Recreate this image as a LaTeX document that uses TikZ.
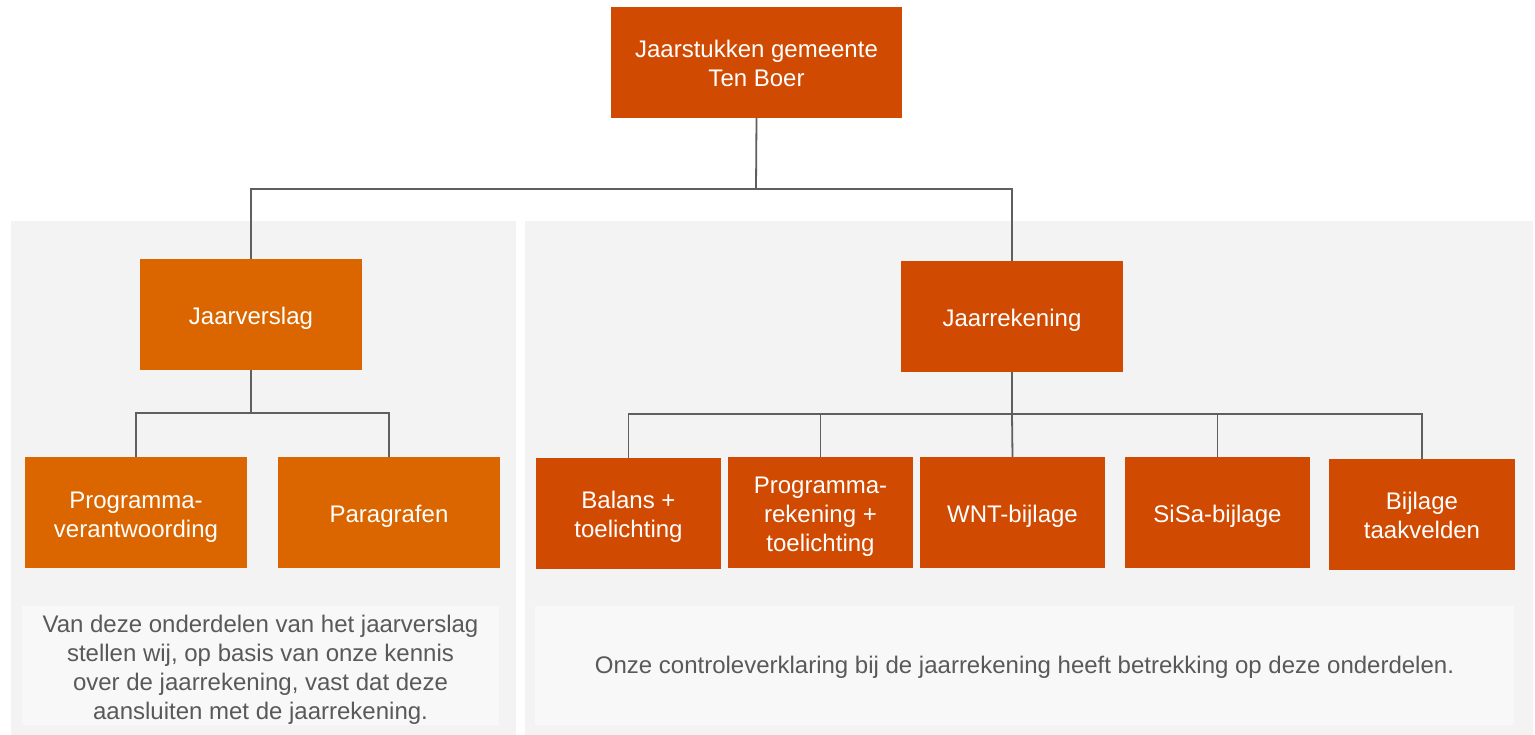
\documentclass[tikz,border=0pt]{standalone}
\usepackage{fontspec}
\setmainfont{Liberation Sans}
\definecolor{pwcred}{HTML}{D04A02}
\definecolor{pwcorange}{HTML}{DB6600}
\definecolor{panelgray}{HTML}{F3F3F3}
\definecolor{notegray}{HTML}{F8F8F8}
\definecolor{linegray}{HTML}{5F5F5F}
\definecolor{textgray}{HTML}{595959}
\newcommand\cellstack[2][-4pt]{\raisebox{#1}[\height][\depth]{\begin{tabular}{@{}c@{}}#2\end{tabular}}}
\begin{document}
\begin{tikzpicture}[x=1pt,y=-1pt,
  box/.style={rectangle, inner sep=0pt, text=white, font=\fontsize{24}{29}\selectfont},
  redbox/.style={box, fill=pwcred},
  orbox/.style={box, fill=pwcorange},
  note/.style={rectangle, inner sep=0pt, fill=notegray, text=textgray, font=\fontsize{24}{29}\selectfont},
  conn/.style={draw=linegray, line width=1.8pt}]
\useasboundingbox (0,0) rectangle (1535,735);
\fill[white] (0,0) rectangle (1535,735);
% panels
\fill[panelgray] (11,221) rectangle (516,735);
\fill[panelgray] (525,221) rectangle (1533,735);
% top
\node[redbox, minimum width=291pt, minimum height=111pt] (top) at (756.5,62.5) {\cellstack{Jaarstukken gemeente\\Ten Boer}};
% level 2
\node[orbox, minimum width=222pt, minimum height=111pt] (jv) at (251,314.5) {\cellstack{Jaarverslag}};
\node[redbox, minimum width=222pt, minimum height=111pt] (jr) at (1012,316.5) {\cellstack{Jaarrekening}};
% level 3 left
\node[orbox, minimum width=222pt, minimum height=111pt] (pv) at (136,512.5) {\cellstack[-5pt]{Programma-\\verantwoording}};
\node[orbox, minimum width=222pt, minimum height=111pt] (par) at (389,512.5) {\cellstack{Paragrafen}};
% level 3 right
\node[redbox, minimum width=185pt, minimum height=111pt] (bal) at (628.5,513.5) {\cellstack{Balans +\\toelichting}};
\node[redbox, minimum width=185pt, minimum height=111pt] (prk) at (820.5,512.5) {\cellstack{Programma-\\rekening +\\toelichting}};
\node[redbox, minimum width=185pt, minimum height=111pt] (wnt) at (1012.5,512.5) {\cellstack{WNT-bijlage}};
\node[redbox, minimum width=185pt, minimum height=111pt] (sisa) at (1217.5,512.5) {\cellstack{SiSa-bijlage}};
\node[redbox, minimum width=186pt, minimum height=111pt] (btv) at (1422,514.5) {\cellstack{Bijlage\\taakvelden}};
% notes
\node[note, minimum width=477pt, minimum height=119pt] (n1) at (260.5,665.5) {\cellstack[-5pt]{Van deze onderdelen van het jaarverslag\\stellen wij, op basis van onze kennis\\over de jaarrekening, vast dat deze\\aansluiten met de jaarrekening.}};
\node[note, minimum width=979pt, minimum height=119pt] (n2) at (1024.5,665.5) {\cellstack[-2pt]{Onze controleverklaring bij de jaarrekening heeft betrekking op deze onderdelen.}};
% connectors
\coordinate (j1) at (756,189);
\coordinate (j2) at (251,413);
\coordinate (j3) at (1012,414);
\draw[conn] (top.south) -- (j1);
\draw[conn] (j1) -| (jv.north);
\draw[conn] (j1) -| (jr.north);
\draw[conn] (jv.south) -- (j2);
\draw[conn] (j2) -| (pv.north);
\draw[conn] (j2) -| (par.north);
\draw[conn] (jr.south) -- (j3);
\draw[conn] (j3) -| (bal.north);
\draw[conn] (j3) -| (prk.north);
\draw[conn] (j3) -- (wnt.north);
\draw[conn] (j3) -| (sisa.north);
\draw[conn] (j3) -| (btv.north);
\end{tikzpicture}
\end{document}
